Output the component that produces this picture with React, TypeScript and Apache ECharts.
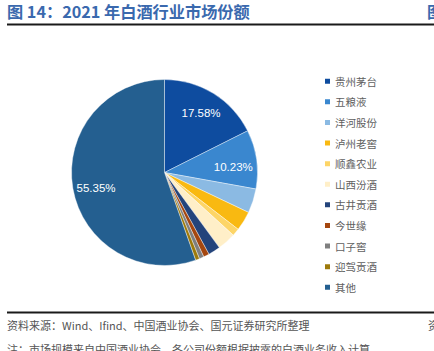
import React, { useEffect, useRef } from "react";
import * as echarts from "echarts";

const categories = ["贵州茅台", "五粮液", "洋河股份", "泸州老窖", "顺鑫农业", "山西汾酒", "古井贡酒", "今世缘", "口子窖", "迎驾贡酒", "其他"];
const values = [17.58, 10.23, 4.2, 3.4, 1.3, 3.2, 2.1, 1.0, 0.8, 0.7, 55.35];
const colors = ["#0E4C9F", "#3A87CF", "#8BBAE3", "#F9B911", "#FDD567", "#FFEFC8", "#24447B", "#A5470F", "#7F7F7F", "#9D7A0B", "#245F90"];
const labelShown = ["贵州茅台", "五粮液", "其他"];
const labelOffsets: Record<string, number[]> = { "贵州茅台": [0, 0], "五粮液": [0, 4], "其他": [0, 4] };

const title = "图 14：2021 年白酒行业市场份额";
const source = "资料来源：Wind、Ifind、中国酒业协会、国元证券研究所整理";
const note = "注：市场规模来自中国酒业协会，各公司份额根据披露的白酒业务收入计算";

export default function App() {
  const ref = useRef<HTMLDivElement>(null);
  useEffect(() => {
    const chart = echarts.init(ref.current!, null, { renderer: "svg" });
    const center = [164.5, 172.5];
    chart.setOption({
      animation: false,
      backgroundColor: "#ffffff",
      color: colors,
      legend: {
        orient: "vertical",
        left: 318,
        top: 71,
        itemWidth: 7,
        itemHeight: 7,
        itemGap: 10.1,
        icon: "rect",
        textStyle: { fontSize: 10.5, color: "#606060", fontFamily: "Noto Sans CJK SC", padding: [0, 0, 0, -1] },
        data: categories,
      },
      series: [
        {
          type: "pie",
          center,
          radius: [0, 93],
          startAngle: 90,
          clockwise: true,
          data: categories.map((c, i) => ({ name: c, value: values[i] })),
          itemStyle: { borderColor: "#ffffff", borderWidth: 0.4 },
          label: { show: false },
          labelLine: { show: false },
        },
        {
          type: "pie",
          center,
          radius: [0, 133],
          startAngle: 90,
          clockwise: true,
          silent: true,
          z: 5,
          data: categories.map((c, i) => ({
            name: c,
            value: values[i],
            label: { show: labelShown.includes(c), offset: labelOffsets[c] || [0, 0] },
          })),
          itemStyle: { color: "rgba(0,0,0,0)" },
          label: {
            position: "inside",
            formatter: (p: any) => p.value.toFixed(2) + "%",
            color: "#ffffff",
            fontSize: 11.5,
            fontFamily: "Liberation Sans",
          },
          labelLine: { show: false },
        },
      ],
      graphic: [
        {
          type: "text",
          left: 7,
          top: 3,
          style: { text: title, fontSize: 16.2, fontWeight: "bold", fill: "#3A69AE", fontFamily: "Noto Sans CJK SC" },
        },
        {
          type: "text",
          left: 427,
          top: 3,
          style: { text: "图", fontSize: 16.2, fontWeight: "bold", fill: "#3A69AE", fontFamily: "Noto Sans CJK SC" },
        },
        { type: "rect", shape: { x: 7, y: 23.5, width: 427, height: 2 }, style: { fill: "#1a1a1a" } },
        { type: "rect", shape: { x: 7, y: 311.5, width: 427, height: 2 }, style: { fill: "#1a1a1a" } },
        {
          type: "text",
          left: 7,
          top: 319,
          style: { text: source, fontSize: 11, fill: "#555555", fontFamily: "Noto Sans CJK SC" },
        },
        {
          type: "text",
          left: 428,
          top: 319,
          style: { text: "资", fontSize: 11, fill: "#555555", fontFamily: "Noto Sans CJK SC" },
        },
        {
          type: "text",
          left: 7,
          top: 343,
          style: { text: note, fontSize: 11, fill: "#555555", fontFamily: "Noto Sans CJK SC" },
        },
      ],
    });
    return () => chart.dispose();
  }, []);
  return <div ref={ref} style={{ width: 434, height: 351, position: "absolute", left: 0, top: 0 }} />;
}
